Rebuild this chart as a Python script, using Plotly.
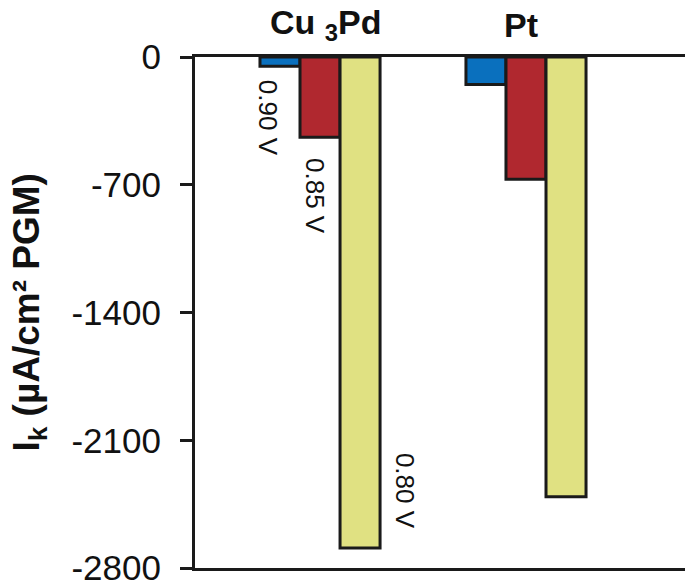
import plotly.graph_objects as go

# Catalysts and kinetic current at each potential (µA/cm² PGM)
catalysts = ["Cu <sub>3</sub>Pd", "Pt"]
potentials = ["0.90 V", "0.85 V", "0.80 V"]
ik_090 = [-50, -150]
ik_085 = [-440, -670]
ik_080 = [-2690, -2410]

series = [ik_090, ik_085, ik_080]
colors = ["#0A70BE", "#B0282F", "#E0E182"]
yticks = [0, -700, -1400, -2100, -2800]

FONT = "Arial, Liberation Sans, sans-serif"

fig = go.Figure()
group_x = list(range(len(catalysts)))
for name, vals, col in zip(potentials, series, colors):
    fig.add_trace(go.Bar(
        x=group_x, y=vals, name=name,
        marker=dict(color=col, line=dict(color="#1a1a1a", width=3)),
        showlegend=False,
    ))

# Catalyst names above the frame
name_shift = [5, -5]
for gx, label, dx in zip(group_x, catalysts, name_shift):
    fig.add_annotation(x=gx, y=1.063, xref="x", yref="paper", yanchor="middle",
                       xshift=dx, text=f"<b>{label}</b>", showarrow=False,
                       font=dict(family=FONT, size=34, color="#111"))

# Potential labels beside the Cu3Pd bars (x in group units, y in µA/cm²)
label_pos = [(-0.252, -334), (-0.024, -762), (0.413, -2378)]
for (lx, ly), txt in zip(label_pos, potentials):
    fig.add_annotation(x=lx, y=ly, xref="x", yref="y", text=txt, textangle=90,
                       showarrow=False, font=dict(family=FONT, size=26, color="#111"))

# Vertical axis title
fig.add_annotation(x=-0.39, y=0.5, xref="paper", yref="paper",
                   text="<b>I<sub>k</sub> (µA/cm² PGM)</b>", textangle=-90,
                   showarrow=False, font=dict(family=FONT, size=37, color="#111"))

fig.update_layout(
    width=685, height=588,
    margin=dict(l=195, r=0, t=57, b=20),
    paper_bgcolor="white", plot_bgcolor="white",
    barmode="group", bargap=0.417, bargroupgap=0,
    font=dict(family=FONT, color="#111"),
    xaxis=dict(range=[-0.607, 1.772], showticklabels=False, ticks="",
               showgrid=False, zeroline=False, showline=True, mirror=True,
               linecolor="#1a1a1a", linewidth=3),
    yaxis=dict(range=[-2800, 0], tickvals=yticks, ticktext=[str(v) for v in yticks],
               ticks="outside", ticklen=12, tickwidth=3, tickcolor="#1a1a1a",
               showgrid=False, zeroline=False, showline=True, mirror=False,
               linecolor="#1a1a1a", linewidth=3, ticklabelstandoff=12,
               tickfont=dict(family=FONT, size=35, color="#111")),
)

fig.write_html("out.html")
